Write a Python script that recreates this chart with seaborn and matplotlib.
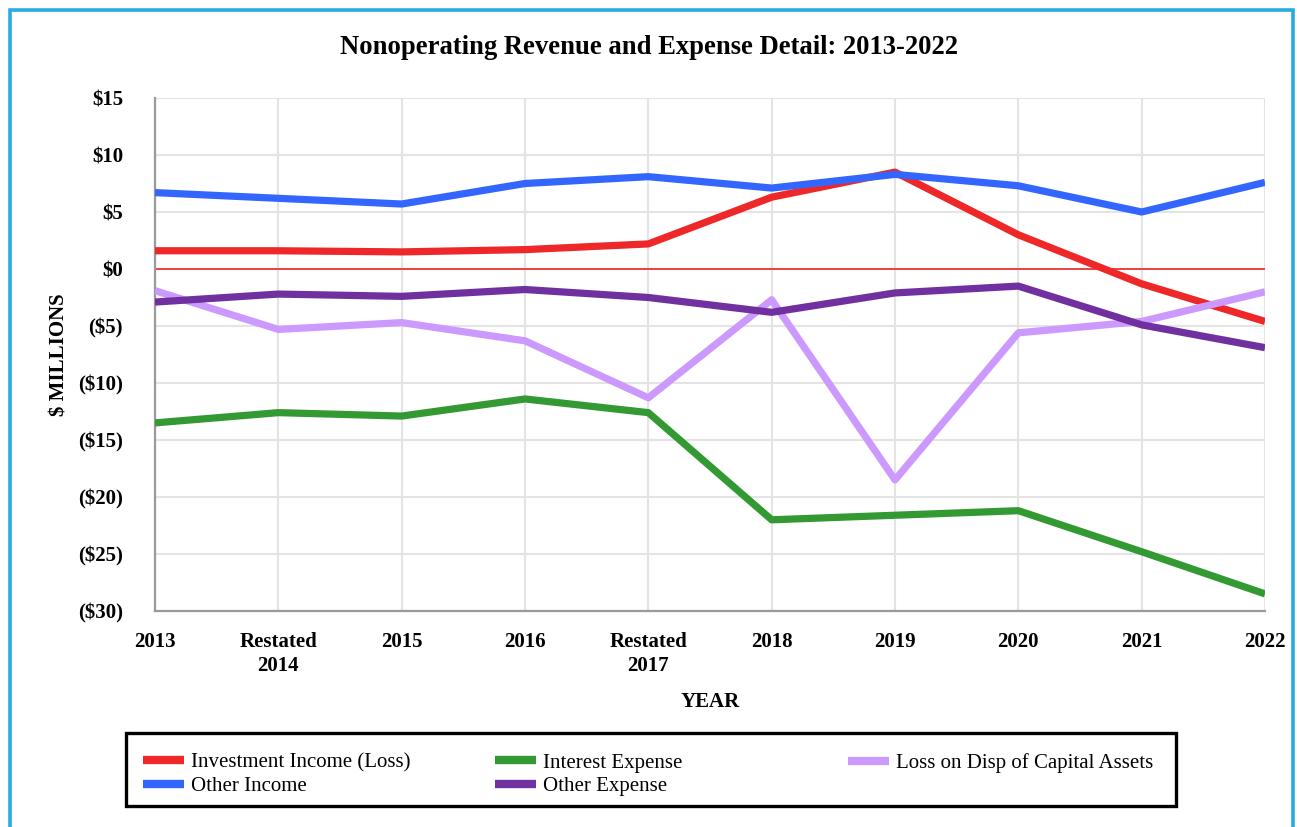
import numpy as np
import pandas as pd
import seaborn as sns
import matplotlib
matplotlib.use("Agg")
import matplotlib.pyplot as plt
from matplotlib.patches import Rectangle
from matplotlib.lines import Line2D
from matplotlib.ticker import FuncFormatter, MultipleLocator

# ---- data ($ millions) ----
years = ["2013", "Restated\n2014", "2015", "2016", "Restated\n2017",
         "2018", "2019", "2020", "2021", "2022"]
investment_income = [1.6, 1.6, 1.5, 1.7, 2.2, 6.3, 8.5, 3.0, -1.3, -4.6]
interest_expense = [-13.5, -12.6, -12.9, -11.4, -12.6, -22.0, -21.6, -21.2, -24.8, -28.5]
loss_on_disposal = [-1.9, -5.3, -4.7, -6.3, -11.3, -2.7, -18.5, -5.6, -4.6, -2.0]
other_income = [6.7, 6.2, 5.7, 7.5, 8.1, 7.1, 8.3, 7.3, 5.0, 7.6]
other_expense = [-2.9, -2.2, -2.4, -1.8, -2.5, -3.8, -2.1, -1.5, -4.9, -6.9]

series_names = ["Investment Income (Loss)", "Interest Expense",
                "Loss on Disp of Capital Assets", "Other Income", "Other Expense"]
series_values = [investment_income, interest_expense, loss_on_disposal,
                 other_income, other_expense]
colors = {
    "Investment Income (Loss)": "#EE2828",
    "Interest Expense": "#339933",
    "Loss on Disp of Capital Assets": "#CC99FF",
    "Other Income": "#3366FF",
    "Other Expense": "#7030A0",
}

rows = []
for name, vals in zip(series_names, series_values):
    for i, v in enumerate(vals):
        rows.append({"pos": i, "value": v, "series": name})
df = pd.DataFrame(rows)

# ---- styling ----
sns.set_theme(style="whitegrid")
plt.rcParams["font.family"] = ["Liberation Serif", "DejaVu Serif"]
plt.rcParams.update({"text.color": "black", "axes.labelcolor": "black",
                     "xtick.color": "black", "ytick.color": "black"})

W, H = 1297, 827
fig = plt.figure(figsize=(W / 100, H / 100), dpi=100)
ax = fig.add_axes([155 / W, 1 - 611 / H, (1265 - 155) / W, (611 - 98) / H])

ax.axhline(0, color="#EE2828", lw=1.2, zorder=1.5)

sns.lineplot(data=df, x="pos", y="value", hue="series", hue_order=series_names,
             palette=colors, linewidth=5.2, legend=False, sort=False, ax=ax,
             zorder=3)
for ln in ax.get_lines()[1:]:
    ln.set_solid_joinstyle("round")
    ln.set_solid_capstyle("butt")

ax.set_xlim(0, len(years) - 1)
ax.set_ylim(-30, 15)
ax.yaxis.set_major_locator(MultipleLocator(5))
ax.set_xticks(range(len(years)))
ax.set_xticklabels(years, fontweight="bold", fontsize=15, linespacing=1.3,
                   multialignment="center")


def money(v, _):
    v = int(round(v))
    return f"${v}" if v >= 0 else f"(${-v})"


ax.yaxis.set_major_formatter(FuncFormatter(money))
ax.tick_params(axis="y", length=0, pad=23, labelsize=15)
ax.tick_params(axis="x", length=0, pad=15, labelsize=15)
for lab in ax.get_yticklabels():
    lab.set_fontweight("bold")

ax.grid(True, color="#e4e4e4", lw=1.5)
ax.set_axisbelow(True)
for side in ("top", "right"):
    ax.spines[side].set_visible(False)
for side in ("left", "bottom"):
    ax.spines[side].set_color("#9a9a9a")
    ax.spines[side].set_linewidth(1.6)

ax.set_ylabel("$ MILLIONS", fontsize=15, fontweight="bold")
ax.yaxis.set_label_coords(-0.077, 0.5)
ax.set_xlabel("YEAR", fontsize=15, fontweight="bold")
ax.xaxis.set_label_coords(0.5, -0.157)

fig.text(0.5, 1 - 47 / H, "Nonoperating Revenue and Expense Detail: 2013-2022",
         ha="center", va="center", fontsize=19.2, fontweight="bold")

# ---- legend: three fixed-width columns inside a framed box ----
columns = [
    (143, ["Investment Income (Loss)", "Other Income"]),
    (495, ["Interest Expense", "Other Expense"]),
    (848, ["Loss on Disp of Capital Assets"]),
]
for x0, names in columns:
    handles = [Line2D([], [], color=colors[n], lw=6, solid_capstyle="butt")
               for n in names]
    fig.legend(handles, names, loc="upper left",
               bbox_to_anchor=(x0 / W, 1 - 753 / H),
               bbox_transform=fig.transFigure, frameon=False,
               fontsize=15, handlelength=1.95, handletextpad=0.35,
               labelspacing=0.18, borderpad=0, borderaxespad=0)

fig.patches.append(Rectangle((126 / W, 1 - 806 / H), (1176 - 126) / W,
                             (806 - 733) / H, transform=fig.transFigure,
                             fill=False, edgecolor="black", lw=2.4))

# outer frame
fig.patches.append(Rectangle((9.5 / W, -0.05), (1293 - 9.5) / W,
                             1.05 - 9.5 / H, transform=fig.transFigure,
                             fill=False, edgecolor="#29ABE2", lw=2.6,
                             clip_on=False))

fig.savefig("out.png", dpi=100, facecolor="white")
